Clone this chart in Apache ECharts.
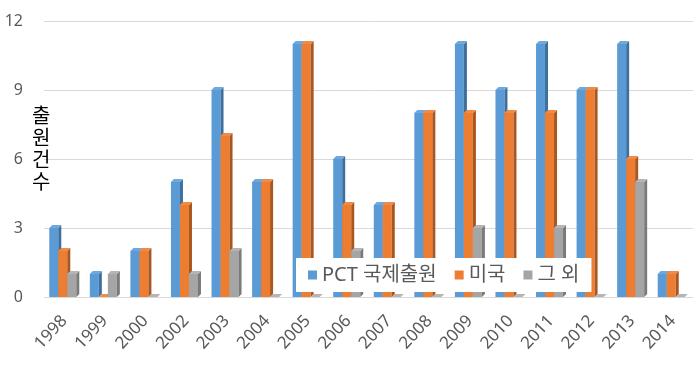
<!DOCTYPE html>
<html><head><meta charset="utf-8">
<script src="https://cdn.jsdelivr.net/npm/echarts@6/dist/echarts.min.js"></script>
<style>html,body{margin:0;padding:0;background:#fff}#c{width:694px;height:375px}</style>
</head><body><div id="c"></div>
<script>
const categories = ['1998','1999','2000','2002','2003','2004','2005','2006','2007','2008','2009','2010','2011','2012','2013','2014'];
const pct   = [3,1,2,5,9,5,11,6,4,8,11,9,11,9,11,1];
const usa   = [2,0,2,4,7,5,11,4,4,8,8,8,8,9,6,1];
const other = [1,1,0,1,2,0,0,2,0,0,3,0,3,0,5,0];
const seriesNames = ['PCT 국제출원','미국','그 외'];
const yTicks = [0,3,6,9,12];

const FONT = '"Noto Sans", "Noto Sans CJK KR", sans-serif';
const front = ['#5B9BD5','#ED7D31','#A5A5A5'];
const side  = ['#3F6F9C','#A9561F','#7A7A7A'];
const topC  = ['#6FA8DC','#F08A45','#B5B5B5'];

function makeRender(s){
  return function(params, api){
    const i = api.value(0), v = api.value(1);
    const base = api.coord([i, 0]);
    const tp = api.coord([i, v]);
    const band = api.size([1,0])[0];
    const w = band*0.222;
    const x = base[0] - 1.5*w + s*w - 1.5;
    const d = 3;
    const y0 = base[1], y1 = tp[1];
    return {type:'group', children:[
      {type:'rect', shape:{x:x, y:y1, width:w, height:y0-y1}, style:{fill:front[s]}},
      {type:'polygon', shape:{points:[[x+w,y1],[x+w+d,y1-d],[x+w+d,y0-d],[x+w,y0]]}, style:{fill:side[s]}},
      {type:'polygon', shape:{points:[[x,y1],[x+d,y1-d],[x+w+d,y1-d],[x+w,y1]]}, style:{fill:topC[s]}}
    ]};
  };
}
const dataSets = [pct, usa, other];
const chart = echarts.init(document.getElementById('c'));
chart.setOption({
  animation:false,
  grid:{left:44, right:1, top:21, bottom:78},
  xAxis:{type:'category', data:categories,
    axisLine:{show:false}, axisTick:{show:false},
    axisLabel:{rotate:47, fontSize:17, color:'#595959', fontFamily:FONT, margin:21, interval:0}},
  yAxis:{type:'value', min:0, max:12, interval:3,
    axisLine:{show:false}, axisTick:{show:false},
    splitLine:{lineStyle:{color:'#D9D9D9', width:1}},
    axisLabel:{fontSize:16, color:'#595959', fontFamily:FONT, margin:21}},
  legend:{left:296, top:258, backgroundColor:'#fff', padding:[7,12,7,12],
    itemWidth:9, itemHeight:9, itemGap:18, icon:'rect',
    textStyle:{fontSize:20, color:'#595959', fontFamily:FONT},
    data:seriesNames},
  graphic:[{type:'text', left:32, top:106, z:10,
    style:{text:'출\n원\n건\n수', fontSize:20, lineHeight:22, fill:'#000', fontFamily:FONT}}],
  series: dataSets.map((arr,s)=>({
    type:'custom', name:seriesNames[s],
    itemStyle:{color:front[s]},
    renderItem:makeRender(s),
    encode:{x:0, y:1},
    data:arr.map((v,i)=>[i,v])
  }))
});
</script></body></html>
